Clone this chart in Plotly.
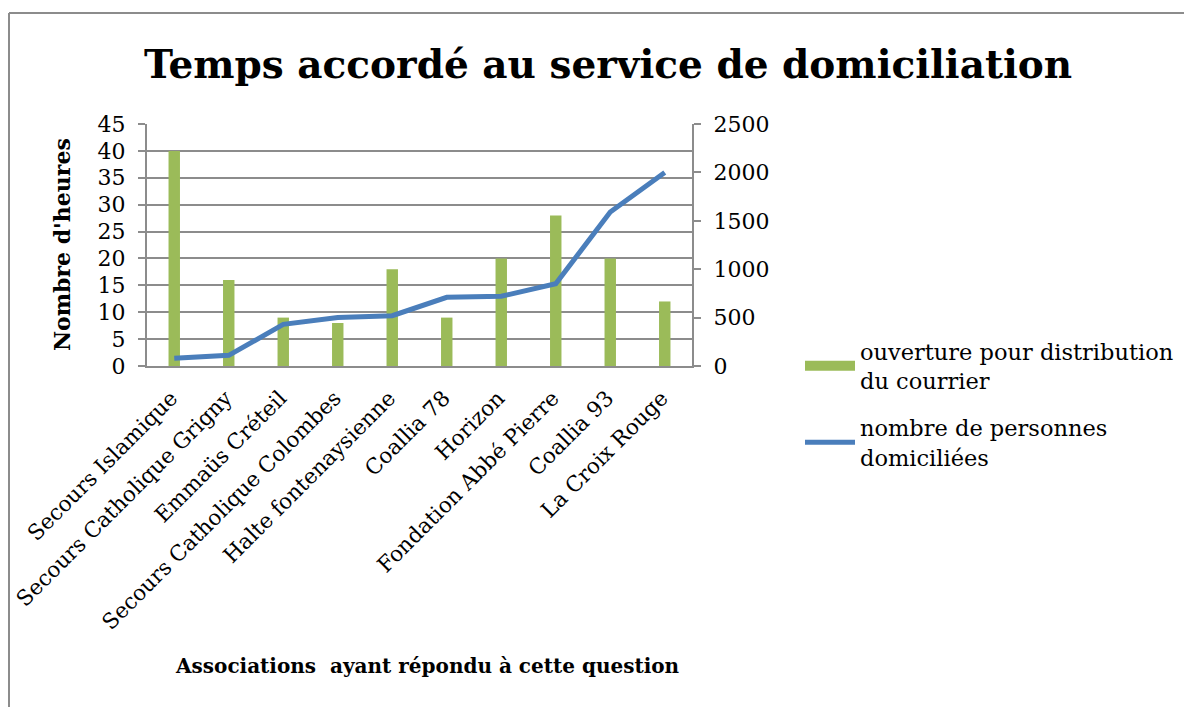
import plotly.graph_objects as go

categories = ["Secours Islamique", "Secours Catholique Grigny", "Emmaüs Créteil",
              "Secours Catholique Colombes", "Halte fontenaysienne", "Coallia 78",
              "Horizon", "Fondation Abbé Pierre", "Coallia 93", "La Croix Rouge"]
heures = [40, 16, 9, 8, 18, 9, 20, 28, 20, 12]
personnes = [80, 110, 430, 500, 520, 710, 720, 850, 1590, 2000]

bar_name = "ouverture pour distribution<br>du courrier"
line_name = "nombre de personnes<br>domiciliées"

OFF = 8  # page body margin
W, H = 1192 - OFF, 707 - OFF
L, R, T, B = 147 - OFF, 692 - OFF, 124 - OFF, 366 - OFF

bar_color = "#9BBB59"
line_color = "#4A7EBB"

fig = go.Figure()
fig.add_trace(go.Bar(x=categories, y=heures, name=bar_name, marker_color=bar_color,
                     marker_line_width=0, width=0.21, yaxis="y", showlegend=False,
                     legendgroup="a"))
# legend entry for the bars, drawn as a wide green swatch like the original
fig.add_trace(go.Scatter(x=[None], y=[None], name=bar_name, mode="lines",
                         line=dict(color=bar_color, width=11), legendgroup="a",
                         hoverinfo="skip"))
fig.add_trace(go.Scatter(x=categories, y=personnes, name=line_name, mode="lines",
                         line=dict(color=line_color, width=5), yaxis="y2",
                         legendgroup="b"))

font = "DejaVu Serif"
gc = "#8C8C8C"


def pxx(px):
    return (px - OFF - L) / (R - L)


def pxy(py):
    return (B - (py - OFF)) / (B - T)


fig.update_layout(
    width=W, height=H,
    margin=dict(l=L, r=W - R, t=T, b=H - B, pad=0, autoexpand=False),
    paper_bgcolor="white", plot_bgcolor="white",
    font=dict(family=font, size=21, color="black"),
    title=dict(text="<b>Temps accordé au service de domiciliation</b>",
               font=dict(family=font, size=39, color="black"),
               x=(608 - OFF) / W, xanchor="center", y=1 - (64 - OFF) / H, yanchor="middle",
               xref="container", yref="container"),
    xaxis=dict(type="category", tickangle=-45, showline=True, linecolor=gc, linewidth=2,
               ticks="", tickfont=dict(size=21.5), ticklabelshift=-3, ticklabelstandoff=9,
               automargin=False),
    yaxis=dict(range=[0, 45], dtick=5, showgrid=True, gridcolor=gc, gridwidth=2,
               showline=True, linecolor=gc, linewidth=2, ticks="outside", ticklen=7,
               tickcolor=gc, tickwidth=2, tickfont=dict(size=22), ticklabelstandoff=8,
               zeroline=False, automargin=False),
    yaxis2=dict(range=[0, 2500], dtick=500, overlaying="y", side="right", showgrid=False,
                showline=True, linecolor=gc, linewidth=2, ticks="outside", ticklen=7,
                tickcolor=gc, tickwidth=2, tickfont=dict(size=22), ticklabelstandoff=8,
                zeroline=False, automargin=False),
    legend=dict(x=pxx(800), y=pxy(330), xanchor="left", yanchor="top",
                font=dict(size=22.5), tracegroupgap=15, itemwidth=50,
                bgcolor="rgba(0,0,0,0)"),
    annotations=[
        dict(text="<b>Associations  ayant répondu à cette question</b>", xref="paper", yref="paper",
             x=pxx(427), y=pxy(666), xanchor="center", yanchor="middle", showarrow=False,
             font=dict(size=20)),
        dict(text="<b>Nombre d'heures</b>", xref="paper", yref="paper", textangle=-90,
             x=pxx(62), y=pxy(245), xanchor="center", yanchor="middle", showarrow=False,
             font=dict(size=22)),
    ],
    shapes=[
        dict(type="line", xref="paper", yref="paper", x0=pxx(9), x1=pxx(1200),
             y0=pxy(13), y1=pxy(13), line=dict(color=gc, width=2)),
        dict(type="line", xref="paper", yref="paper", x0=pxx(9), x1=pxx(9),
             y0=pxy(13), y1=pxy(720), line=dict(color=gc, width=2)),
    ],
)

fig.write_html("out.html")
